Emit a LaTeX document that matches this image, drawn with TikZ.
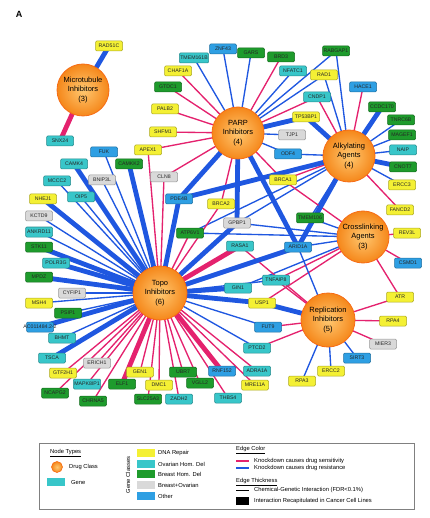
\documentclass[tikz,border=0pt]{standalone}
\usepackage{fontspec}
\setmainfont{Liberation Sans}
\usetikzlibrary{backgrounds}
\definecolor{edgered}{HTML}{E4226E}
\definecolor{edgeblue}{HTML}{1F57E0}
\definecolor{dnarep}{HTML}{F4F034}
\definecolor{ovdel}{HTML}{38C6C9}
\definecolor{brdel}{HTML}{1E9B2C}
\definecolor{brov}{HTML}{D9D9D9}
\definecolor{othergene}{HTML}{2E9FE3}
\definecolor{drugin}{HTML}{FFC870}
\definecolor{drugout}{HTML}{F5871A}
\begin{document}
\begin{tikzpicture}[x=1pt,y=-1pt,
  every node/.style={font=\fontsize{5.2}{6}\selectfont},
  drug/.style={circle,minimum size=52pt,inner sep=0pt,align=center,draw=drugout!80!red,line width=0.8pt,
    inner color=drugin,outer color=drugout,font=\fontsize{7.5}{9.3}\selectfont},
  gene/.style={rectangle,rounded corners=1.2pt,minimum width=27pt,minimum height=10pt,inner xsep=1pt,inner ysep=0pt,line width=0.5pt,text=black!85},
  yel/.style={gene,fill=dnarep,draw=dnarep!70!black},
  cyn/.style={gene,fill=ovdel,draw=ovdel!70!black},
  grn/.style={gene,fill=brdel,draw=brdel!70!black},
  gry/.style={gene,fill=brov,draw=brov!70!black},
  blu/.style={gene,fill=othergene,draw=othergene!70!black},
  sens/.style={draw=edgered,line width=1.35pt},
  sensbig/.style={draw=edgered,line width=4.8pt},
  resist/.style={draw=edgeblue,line width=1.35pt},
  resistbig/.style={draw=edgeblue,line width=4.8pt},
  legtext/.style={anchor=west,inner sep=0pt,font=\fontsize{5.8}{7}\selectfont},
  swatch/.style={rectangle,minimum width=18pt,minimum height=7.5pt,inner sep=0pt}]
\useasboundingbox (0,0) rectangle (429,518);
\node[font=\bfseries\fontsize{9}{10}\selectfont] (panel) at (19,14) {A};
% drug classes
\node[drug] (micro) at (83,90) {Microtubule\\Inhibitors\\(3)};
\node[drug] (parp) at (238,133) {PARP\\Inhibitors\\(4)};
\node[drug] (alky) at (349,156) {Alkylating\\Agents\\(4)};
\node[drug] (xlink) at (363,237) {Crosslinking\\Agents\\(3)};
\node[drug,minimum size=54pt] (topo) at (160,293) {Topo\\Inhibitors\\(6)};
\node[drug,minimum size=54pt] (repl) at (328,320) {Replication\\Inhibitors\\(5)};
% genes, top
\node[yel] (rad51c) at (109,46) {RAD51C};
\node[cyn] (snx24) at (60,141) {SNX24};
\node[cyn] (tmem161b) at (194,58) {TMEM161B};
\node[blu] (znf43) at (223,49) {ZNF43};
\node[grn] (gars) at (251,53) {GARS};
\node[grn] (brd3) at (281,57) {BRD3};
\node[grn] (rabgap1) at (336,51) {RABGAP1};
\node[cyn] (nfatc1) at (293,71) {NFATC1};
\node[yel] (rad1) at (324,75) {RAD1};
\node[blu] (hace1) at (363,87) {HACE1};
\node[cyn] (cndp1) at (317,97) {CNDP1};
\node[yel] (tp53bp1) at (306,117) {TP53BP1};
\node[yel] (chaf1a) at (178,71) {CHAF1A};
\node[grn] (gtdc1) at (168,87) {GTDC1};
\node[yel] (palb2) at (165,109) {PALB2};
\node[yel] (shfm1) at (163,132) {SHFM1};
\node[yel] (apex1) at (148,150) {APEX1};
\node[gry] (cln8) at (164,177) {CLN8};
\node[blu] (pde4b) at (179,199) {PDE4B};
% genes, right
\node[grn] (ccdc170) at (382,107) {CCDC170};
\node[grn] (tnrc6b) at (401,120) {TNRC6B};
\node[grn] (magef1) at (402,135) {MAGEF1};
\node[cyn] (naip) at (403,150) {NAIP};
\node[grn] (cnot7) at (403,167) {CNOT7};
\node[yel] (ercc3) at (402,185) {ERCC3};
\node[yel] (fancd2) at (400,210) {FANCD2};
\node[yel] (rev3l) at (407,233) {REV3L};
\node[blu] (csmd1) at (408,263) {CSMD1};
% genes, middle
\node[gry] (tjp1) at (292,135) {TJP1};
\node[blu] (odf4) at (288,154) {ODF4};
\node[yel] (brca1) at (283,180) {BRCA1};
\node[yel] (brca2) at (221,204) {BRCA2};
\node[gry] (gpbp1) at (237,223) {GPBP1};
\node[grn] (tmem106) at (310,218) {TMEM106};
\node[grn] (atp6v1) at (190,233) {ATP6V1};
\node[cyn] (rasa1) at (240,246) {RASA1};
\node[blu] (arid1a) at (298,247) {ARID1A};
\node[cyn] (gin1) at (238,288) {GIN1};
\node[cyn] (tnfaip8) at (276,280) {TNFAIP8};
\node[yel] (usp1) at (262,303) {USP1};
\node[blu] (fut9) at (268,327) {FUT9};
\node[cyn] (ptcd2) at (257,348) {PTCD2};
\node[yel] (atr) at (400,297) {ATR};
\node[yel] (rpa4) at (393,321) {RPA4};
\node[gry] (mier3) at (383,344) {MIER3};
\node[blu] (sirt3) at (357,358) {SIRT3};
\node[yel] (ercc2) at (331,371) {ERCC2};
\node[yel] (rpa3) at (302,381) {RPA3};
% genes, left
\node[blu] (fuk) at (104,152) {FUK};
\node[cyn] (camk4) at (74,164) {CAMK4};
\node[grn] (camkk2) at (129,164) {CAMKK2};
\node[gry] (bnip3l) at (102,180) {BNIP3L};
\node[cyn] (mccc2) at (57,181) {MCCC2};
\node[cyn] (oip5) at (81,197) {OIP5};
\node[yel] (nhej1) at (43,199) {NHEJ1};
\node[gry] (kctd9) at (39,216) {KCTD9};
\node[cyn] (ankrd11) at (39,232) {ANKRD11};
\node[grn] (stk11) at (39,247) {STK11};
\node[cyn] (polr3g) at (56,263) {POLR3G};
\node[grn] (mpdz) at (39,277) {MPDZ};
\node[gry] (cyfip1) at (72,293) {CYFIP1};
\node[yel] (msh4) at (39,303) {MSH4};
\node[grn] (psip1) at (68,313) {PSIP1};
\node[blu] (ac011484) at (40,327) {\makebox[0pt]{AC011484.2-2}};
\node[cyn] (bhmt) at (62,338) {BHMT};
\node[cyn] (tsca) at (52,358) {TSCA};
% genes, bottom
\node[gry] (erich1) at (97,363) {ERICH1};
\node[yel] (gtf2h1) at (63,373) {GTF2H1};
\node[grn] (ncapg2) at (55,393) {NCAPG2};
\node[cyn] (mapk8ip1) at (87,384) {MAPK8IP1};
\node[grn] (chrna5) at (93,401) {CHRNA5};
\node[grn] (elf1) at (122,384) {ELF1};
\node[yel] (gen1) at (140,372) {GEN1};
\node[yel] (dmc1) at (159,385) {DMC1};
\node[grn] (slc25a3) at (148,399) {SLC25A3};
\node[cyn] (zadh2) at (179,399) {ZADH2};
\node[grn] (ubr7) at (183,372) {UBR7};
\node[grn] (vgll2) at (200,383) {VGLL2};
\node[blu] (rnf152) at (222,371) {RNF152};
\node[cyn] (adra1a) at (257,371) {ADRA1A};
\node[yel] (mre11a) at (255,385) {MRE11A};
\node[cyn] (thbs4) at (228,398) {THBS4};
% edges
\begin{scope}[on background layer]
\foreach \g in {tmem161b,znf43,gars,nfatc1,rabgap1,rad1,tjp1,odf4} \draw[resist] (parp.center) -- (\g.center);
\foreach \g in {brd3,cndp1,chaf1a,gtdc1,palb2,shfm1,apex1,cln8,brca1,brca2} \draw[sens] (parp.center) -- (\g.center);
\foreach \g in {rabgap1,rad1,tnrc6b,magef1,naip,ercc3,gpbp1,tmem106,atp6v1,odf4} \draw[resist] (alky.center) -- (\g.center);
\foreach \g in {cndp1,hace1,fancd2,brca1} \draw[sens] (alky.center) -- (\g.center);
\foreach \g in {rev3l,csmd1,brca1,tnfaip8,usp1,atr} \draw[sens] (xlink.center) -- (\g.center);
\foreach \g in {gpbp1,tmem106,arid1a,gin1,atp6v1} \draw[resist] (xlink.center) -- (\g.center);
\foreach \g in {fuk,bnip3l,mccc2,oip5,kctd9,ankrd11,cyfip1,msh4,psip1,bhmt,tnfaip8,fut9,ptcd2} \draw[resist] (topo.center) -- (\g.center);
\foreach \g in {erich1,gtf2h1,ncapg2,mapk8ip1,chrna5,gen1,dmc1,slc25a3,zadh2,ubr7,vgll2,adra1a,mre11a,thbs4,apex1,cln8,brca2,atp6v1} \draw[sens] (topo.center) -- (\g.center);
\foreach \g in {tnfaip8,fut9,ptcd2,atr,rpa4,mier3,rasa1} \draw[sens] (repl.center) -- (\g.center);
\foreach \g in {sirt3,ercc2,rpa3,arid1a} \draw[resist] (repl.center) -- (\g.center);
\draw[resistbig] (micro.center) -- (rad51c.center);
\draw[sensbig] (micro.center) -- (snx24.center);
\foreach \g in {tp53bp1,pde4b,gpbp1,arid1a} \draw[resistbig] (parp.center) -- (\g.center);
\foreach \g in {tp53bp1,ccdc170,cnot7,pde4b,arid1a} \draw[resistbig] (alky.center) -- (\g.center);
\foreach \g in {camk4,camkk2,nhej1,stk11,polr3g,mpdz,ac011484,tsca,pde4b,gpbp1,arid1a,gin1,usp1} \draw[resistbig] (topo.center) -- (\g.center);
\foreach \g in {rasa1,elf1,rnf152} \draw[sensbig] (topo.center) -- (\g.center);
\draw[resistbig] (repl.center) -- (usp1.center);
\end{scope}
% legend
\draw[draw=black!50,line width=0.7pt] (39,443) rectangle (414,509);
\node[legtext] (ntypes) at (50,453) {\underline{Node Types}};
\node[drug,minimum size=11pt,line width=0.6pt] (legdrug) at (57,467) {};
\node[legtext] (ldrug) at (69,467) {Drug Class};
\node[swatch,fill=ovdel] (leggene) at (56,482) {};
\node[legtext] (lgene) at (71,482) {Gene};
\node[rotate=90,inner sep=0pt,font=\fontsize{5.8}{7}\selectfont] (gclasses) at (128,475) {Gene Classes};
\node[swatch,fill=dnarep] (swrep) at (146,453) {};
\node[legtext] (lrep) at (158,453) {DNA Repair};
\node[swatch,fill=ovdel] (swov) at (146,464) {};
\node[legtext] (lov) at (158,464) {Ovarian Hom. Del};
\node[swatch,fill=brdel] (swbr) at (146,474) {};
\node[legtext] (lbr) at (158,474) {Breast Hom. Del};
\node[swatch,fill=brov] (swbo) at (146,485) {};
\node[legtext] (lbo) at (158,485) {Breast+Ovarian};
\node[swatch,fill=othergene] (swot) at (146,496) {};
\node[legtext] (lot) at (158,496) {Other};
\node[legtext] (ecolor) at (236,450) {\underline{Edge Color}};
\coordinate (r1) at (236,461); \coordinate (r2) at (249,461);
\draw[draw=edgered,line width=1.2pt] (r1) -- (r2);
\node[legtext] (lsens) at (254,461) {Knockdown causes drug sensitivity};
\coordinate (b1) at (236,468); \coordinate (b2) at (249,468);
\draw[draw=edgeblue,line width=1.2pt] (b1) -- (b2);
\node[legtext] (lres) at (254,468) {Knockdown causes drug resistance};
\node[legtext] (ethick) at (236,482) {\underline{Edge Thickness}};
\coordinate (t1) at (236,490); \coordinate (t2) at (249,490);
\draw[line width=1pt] (t1) -- (t2);
\node[legtext] (lthin) at (254,490) {Chemical-Genetic Interaction (FDR<0.1\%)};
\fill (236,497) rectangle (249,505);
\node[legtext] (lthick) at (254,501) {Interaction Recapitulated in Cancer Cell Lines};
\end{tikzpicture}
\end{document}
